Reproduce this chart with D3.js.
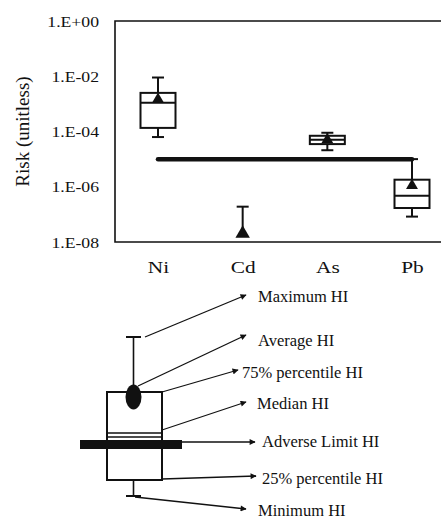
<!DOCTYPE html>
<html>
<head>
<meta charset="utf-8">
<script src="https://cdn.jsdelivr.net/npm/d3@7"></script>
<style>
  body { margin: 0; background: #fff; }
  text { font-family: "Liberation Serif", "Times New Roman", serif; fill: #111; }
</style>
</head>
<body>
<div class="plot"></div>
<script>
// box plot values (log scale, risk unitless)
let categories = ["Ni", "Cd", "As", "Pb"];
let maxVals    = [9e-3,    1.9e-7, 9e-5,   1e-5];
let q3Vals     = [2.5e-3,  null,   7e-5,   1.8e-6];
let medianVals = [1.1e-3,  null,   5e-5,   4.7e-7];
let q1Vals     = [1.35e-4, null,   3.5e-5, 1.7e-7];
let minVals    = [6.3e-5,  null,   2.1e-5, 8.3e-8];
let meanVals   = [1.45e-3, 2e-8,   5e-5,   1.1e-6];
let adverseLimit = 1e-5;

let yTicks = [1, 1e-2, 1e-4, 1e-6, 1e-8];
let yTickLabels = ["1.E+00", "1.E-02", "1.E-04", "1.E-06", "1.E-08"];
let yTitle = "Risk (unitless)";

let legendLabels = ["Maximum HI", "Average HI", "75% percentile HI", "Median HI",
                    "Adverse Limit HI", "25% percentile HI", "Minimum HI"];

let width = 441, height = 520;
let plotLeft = 115, plotTop = 21, plotBottom = 242;
let boxW = 35, capW = 12;
let stretch = 1.22;   // the original figure text is a bit wide

let svg = d3.select(".plot").append("svg")
    .attr("width", width)
    .attr("height", height);

let xScale = d3.scalePoint().domain(categories).range([158, 412]);
let yScale = d3.scaleLog().domain([1e-8, 1]).range([plotBottom, plotTop]);

// frame (right side runs off the picture)
svg.append("path")
    .attr("d", "M" + (width + 5) + "," + plotTop + "H" + plotLeft + "V" + plotBottom + "H" + (width + 5))
    .attr("fill", "none")
    .attr("stroke", "#111")
    .attr("stroke-width", 1.6);

// y tick labels
let yAxis = d3.axisLeft(yScale).tickValues(yTicks)
    .tickFormat((d, i) => yTickLabels[i]).tickSize(0).tickPadding(0);
let gy = svg.append("g").attr("class", "y-axis")
    .attr("transform", "translate(" + plotLeft + ",0)")
    .call(yAxis);
gy.select(".domain").remove();
gy.selectAll(".tick text")
    .attr("x", null).attr("dy", null)
    .attr("text-anchor", "end")
    .attr("font-size", 14.5)
    .attr("transform", "translate(-16,5) scale(" + stretch + ",1)");

// x category labels
let xAxis = d3.axisBottom(xScale).tickSize(0).tickPadding(0);
let gx = svg.append("g").attr("class", "x-axis")
    .attr("transform", "translate(0," + plotBottom + ")")
    .call(xAxis);
gx.select(".domain").remove();
gx.selectAll(".tick text")
    .attr("y", null).attr("dy", null)
    .attr("font-size", 17.5)
    .attr("transform", "translate(0,31) scale(" + stretch + ",1)");

svg.append("text")
    .attr("transform", "translate(29," + ((plotTop + plotBottom) / 2) + ") rotate(-90)")
    .attr("text-anchor", "middle")
    .attr("font-size", 19)
    .text(yTitle);

// boxes
let boxes = svg.append("g").attr("class", "boxes")
    .attr("stroke", "#111").attr("stroke-width", 2);

categories.forEach((c, i) => {
    let cx = xScale(c);
    let g = boxes.append("g");
    let top = q3Vals[i] != null ? q3Vals[i] : meanVals[i];
    // upper whisker
    g.append("line").attr("x1", cx).attr("x2", cx)
        .attr("y1", yScale(maxVals[i])).attr("y2", yScale(top));
    g.append("line").attr("x1", cx - capW / 2).attr("x2", cx + capW / 2)
        .attr("y1", yScale(maxVals[i])).attr("y2", yScale(maxVals[i]));
    if (q3Vals[i] == null) return;
    // lower whisker
    g.append("line").attr("x1", cx).attr("x2", cx)
        .attr("y1", yScale(q1Vals[i])).attr("y2", yScale(minVals[i]));
    g.append("line").attr("x1", cx - capW / 2).attr("x2", cx + capW / 2)
        .attr("y1", yScale(minVals[i])).attr("y2", yScale(minVals[i]));
    g.append("rect")
        .attr("x", cx - boxW / 2).attr("width", boxW)
        .attr("y", yScale(q3Vals[i]))
        .attr("height", yScale(q1Vals[i]) - yScale(q3Vals[i]))
        .attr("fill", "#fff");
    g.append("line").attr("x1", cx - boxW / 2).attr("x2", cx + boxW / 2)
        .attr("y1", yScale(medianVals[i])).attr("y2", yScale(medianVals[i]));
});

// adverse limit line, Ni to Pb
svg.append("line")
    .attr("x1", xScale(categories[0])).attr("x2", xScale(categories[categories.length - 1]))
    .attr("y1", yScale(adverseLimit)).attr("y2", yScale(adverseLimit))
    .attr("stroke", "#111").attr("stroke-width", 4.5).attr("stroke-linecap", "round");

// mean triangles
svg.selectAll(".mean").data(meanVals).enter()
    .append("path")
    .attr("class", "mean")
    .attr("d", (d, i) => d3.symbol(d3.symbolTriangle, i == 1 ? 90 : 62)())
    .attr("transform", (d, i) => "translate(" + xScale(categories[i]) + "," + yScale(d) + ")")
    .attr("fill", "#111");

// ---- schematic legend below ----
svg.append("defs").append("marker")
    .attr("id", "arrow")
    .attr("viewBox", "0 0 10 10")
    .attr("refX", 9).attr("refY", 5)
    .attr("markerWidth", 7).attr("markerHeight", 6)
    .attr("markerUnits", "userSpaceOnUse")
    .attr("orient", "auto")
    .append("path").attr("d", "M0,0L10,5L0,10Z").attr("fill", "#111");

let lg = svg.append("g").attr("class", "legend");
let bx0 = 107, bx1 = 162, byTop = 392, byBot = 480, bcx = 133.5;

lg.append("line").attr("x1", bcx).attr("x2", bcx).attr("y1", 337).attr("y2", 392)
    .attr("stroke", "#111").attr("stroke-width", 1.6);
lg.append("line").attr("x1", 126).attr("x2", 141).attr("y1", 337).attr("y2", 337)
    .attr("stroke", "#111").attr("stroke-width", 2);
lg.append("line").attr("x1", bcx).attr("x2", bcx).attr("y1", byBot).attr("y2", 496)
    .attr("stroke", "#111").attr("stroke-width", 1.6);
lg.append("line").attr("x1", 126).attr("x2", 141).attr("y1", 496).attr("y2", 496)
    .attr("stroke", "#111").attr("stroke-width", 2);
lg.append("rect").attr("x", bx0).attr("y", byTop)
    .attr("width", bx1 - bx0).attr("height", byBot - byTop)
    .attr("fill", "#fff").attr("stroke", "#111").attr("stroke-width", 2);
lg.append("line").attr("x1", bx0).attr("x2", bx1).attr("y1", 433).attr("y2", 433)
    .attr("stroke", "#111").attr("stroke-width", 1.4);
lg.append("line").attr("x1", bx0).attr("x2", bx1).attr("y1", 437).attr("y2", 437)
    .attr("stroke", "#111").attr("stroke-width", 1.4);
lg.append("rect").attr("x", 80).attr("y", 440).attr("width", 102).attr("height", 9)
    .attr("fill", "#111");
lg.append("ellipse").attr("cx", bcx).attr("cy", 397).attr("rx", 8).attr("ry", 12.5)
    .attr("fill", "#111");

// arrows: start point, arrow tip, label x, label baseline
let arrows = [
    [145, 337, 246, 295, 258, 302],
    [138, 386, 246, 335, 258, 346],
    [162, 392, 238, 370, 242, 378],
    [162, 430, 246, 402, 257, 409],
    [182, 442, 255, 442, 262, 447],
    [162, 479, 256, 476, 262, 484],
    [135, 497, 246, 509, 258, 516]
];
arrows.forEach((a, i) => {
    lg.append("line")
        .attr("x1", a[0]).attr("y1", a[1]).attr("x2", a[2]).attr("y2", a[3])
        .attr("stroke", "#111").attr("stroke-width", 1.3)
        .attr("marker-end", "url(#arrow)");
    lg.append("text")
        .attr("x", a[4]).attr("y", a[5])
        .attr("font-size", 16.5)
        .text(legendLabels[i]);
});
</script>
</body>
</html>
